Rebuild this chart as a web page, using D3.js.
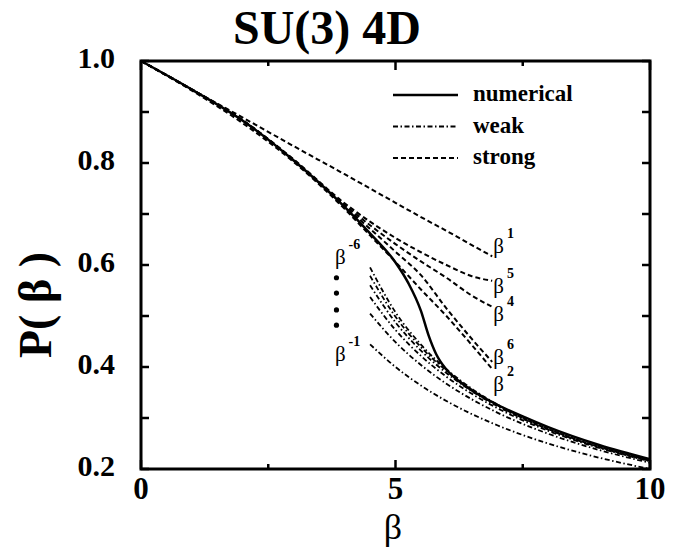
<!DOCTYPE html>
<html>
<head>
<meta charset="utf-8">
<script src="https://cdn.jsdelivr.net/npm/d3@7"></script>
<style>
  body { margin: 0; background: #fff; }
</style>
</head>
<body>
<div id="chart"></div>
<script>
// numerical (exact) curve
const numBeta = [0, 1, 2, 3, 4, 4.5, 5, 5.25, 5.5, 5.65, 5.8, 6, 6.25, 6.5, 7, 7.5, 8, 9, 10];
const numP    = [1, 0.944, 0.883, 0.805, 0.714, 0.662, 0.605, 0.565, 0.510, 0.462, 0.425, 0.395, 0.372, 0.354, 0.326, 0.303, 0.282, 0.247, 0.219];

// strong coupling, orders beta^1 .. beta^6
const strongBeta = [0, 1, 2, 3, 4, 4.5, 5, 5.5, 6, 6.5, 6.9];
const strong1 = [1, 0.944, 0.889, 0.833, 0.778, 0.750, 0.722, 0.694, 0.667, 0.639, 0.617];
const strong2 = [1, 0.942, 0.878, 0.802, 0.710, 0.658, 0.606, 0.552, 0.500, 0.443, 0.396];
const strong4 = [1, 0.944, 0.883, 0.806, 0.718, 0.678, 0.641, 0.607, 0.575, 0.540, 0.518];
const strong5 = [1, 0.944, 0.884, 0.807, 0.721, 0.685, 0.653, 0.625, 0.600, 0.578, 0.569];
const strong6 = [1, 0.944, 0.883, 0.805, 0.715, 0.671, 0.626, 0.580, 0.515, 0.455, 0.410];

// weak coupling, orders beta^-1 .. beta^-6
const weakBeta = [4.5, 5, 5.5, 6, 6.5, 7, 7.5, 8, 9, 10];
const weak1 = [0.4444, 0.4000, 0.3636, 0.3333, 0.3077, 0.2857, 0.2667, 0.2500, 0.2222, 0.2000];
const weak2 = [0.5047, 0.4488, 0.4040, 0.3672, 0.3366, 0.3106, 0.2884, 0.2691, 0.2373, 0.2122];
const weak3 = [0.5372, 0.4725, 0.4218, 0.3810, 0.3474, 0.3193, 0.2954, 0.2749, 0.2414, 0.2152];
const weak4 = [0.5602, 0.4876, 0.4321, 0.3882, 0.3526, 0.3232, 0.2984, 0.2772, 0.2428, 0.2161];
const weak5 = [0.5788, 0.4986, 0.4389, 0.3927, 0.3556, 0.3252, 0.2998, 0.2782, 0.2434, 0.2164];
const weak6 = [0.5953, 0.5073, 0.4439, 0.3956, 0.3574, 0.3264, 0.3006, 0.2787, 0.2436, 0.2166];

// order labels: [beta, P, superscript]
const orderLabels = [
  [6.92, 0.6235, "1"], [6.92, 0.545, "5"], [6.92, 0.490, "4"],
  [6.92, 0.406, "6"], [6.92, 0.353, "2"],
  [3.81, 0.602, "-6"], [3.81, 0.412, "-1"]
];
const dotsP = [0.575, 0.545, 0.512, 0.482];
const dotsBeta = 3.84;

const xTicks = [0, 2.5, 5, 7.5, 10];
const xLabels = [0, 5, 10];
const yTicks = [0.2, 0.3, 0.4, 0.5, 0.6, 0.7, 0.8, 0.9, 1.0];
const yLabels = [0.2, 0.4, 0.6, 0.8, 1.0];

const W = 680, H = 548;
const m = { left: 141, right: 30, top: 61, bottom: 79 };
const FONT = "Liberation Serif";

const svg = d3.select("#chart").append("svg")
  .attr("width", W).attr("height", H)
  .attr("font-family", FONT);

const x = d3.scaleLinear().domain([0, 10]).range([m.left, W - m.right]);
const y = d3.scaleLinear().domain([0.2, 1.0]).range([H - m.bottom, m.top]);

const line = d3.line()
  .x(d => x(d[0])).y(d => y(d[1]))
  .curve(d3.curveMonotoneX);

function draw(betas, vals, dash, width) {
  svg.append("path")
    .datum(d3.zip(betas, vals))
    .attr("d", line)
    .attr("fill", "none")
    .attr("stroke", "#000")
    .attr("stroke-width", width)
    .attr("stroke-dasharray", dash);
}

const DASH = "5,3";
const DOTDASH = "5,2.5,1.5,2.5";

[strong1, strong2, strong4, strong5, strong6].forEach(s => draw(strongBeta, s, DASH, 2));
[weak1, weak2, weak3, weak4, weak5, weak6].forEach(s => draw(weakBeta, s, DOTDASH, 1.8));
draw(numBeta, numP, null, 2.5);

// frame
svg.append("rect")
  .attr("x", x(0)).attr("y", y(1))
  .attr("width", x(10) - x(0)).attr("height", y(0.2) - y(1))
  .attr("fill", "none").attr("stroke", "#000").attr("stroke-width", 3);

// ticks (inward, mirrored)
xTicks.forEach(t => {
  const len = xLabels.includes(t) ? 9 : 5;
  svg.append("line").attr("x1", x(t)).attr("x2", x(t))
    .attr("y1", y(0.2)).attr("y2", y(0.2) - len)
    .attr("stroke", "#000").attr("stroke-width", 2.5);
  svg.append("line").attr("x1", x(t)).attr("x2", x(t))
    .attr("y1", y(1)).attr("y2", y(1) + len)
    .attr("stroke", "#000").attr("stroke-width", 2.5);
});
yTicks.forEach(t => {
  svg.append("line").attr("x1", x(0)).attr("x2", x(0) + 8)
    .attr("y1", y(t)).attr("y2", y(t))
    .attr("stroke", "#000").attr("stroke-width", 2.5);
  svg.append("line").attr("x1", x(10)).attr("x2", x(10) - 8)
    .attr("y1", y(t)).attr("y2", y(t))
    .attr("stroke", "#000").attr("stroke-width", 2.5);
});

// tick labels
svg.selectAll(".xl").data(xLabels).enter().append("text")
  .attr("x", d => x(d)).attr("y", y(0.2) + 30)
  .attr("text-anchor", "middle")
  .attr("font-size", 31).attr("font-weight", "bold")
  .text(d => d);
svg.selectAll(".yl").data(yLabels).enter().append("text")
  .attr("x", x(0) - 26).attr("y", d => y(d) + 7)
  .attr("text-anchor", "end")
  .attr("font-size", 30).attr("font-weight", "bold")
  .text(d => d.toFixed(1));

// title and axis labels
svg.append("text").attr("x", 327).attr("y", 44)
  .attr("text-anchor", "middle")
  .attr("font-size", 48).attr("font-weight", "bold")
  .text("SU(3) 4D");
svg.append("text").attr("x", 393).attr("y", 539)
  .attr("text-anchor", "middle")
  .attr("font-size", 36)
  .text("β");
svg.append("text")
  .attr("transform", "translate(51,305) rotate(-90)")
  .attr("text-anchor", "middle")
  .attr("font-size", 46).attr("font-weight", "bold")
  .text("P( β )");

// order labels
orderLabels.forEach(([b, p, s]) => {
  const t = svg.append("text")
    .attr("x", x(b)).attr("y", y(p))
    .attr("font-size", 21);
  t.append("tspan").text("β");
  t.append("tspan").attr("dx", 3).attr("dy", -15)
    .attr("font-size", 14).attr("font-weight", "bold")
    .text(s);
});
svg.selectAll(".dot").data(dotsP).enter().append("circle")
  .attr("cx", x(dotsBeta)).attr("cy", d => y(d))
  .attr("r", 2.6).attr("fill", "#000");

// legend
const legend = [["numerical", null], ["weak", DOTDASH], ["strong", DASH]];
legend.forEach(([name, dash], i) => {
  const ly = 95 + i * 31.5;
  svg.append("line").attr("x1", 393).attr("x2", 458)
    .attr("y1", ly).attr("y2", ly)
    .attr("stroke", "#000").attr("stroke-width", i === 0 ? 2.5 : 2)
    .attr("stroke-dasharray", dash);
  svg.append("text").attr("x", 473).attr("y", ly + 6)
    .attr("font-size", 23).attr("font-weight", "bold")
    .text(name);
});
</script>
</body>
</html>
